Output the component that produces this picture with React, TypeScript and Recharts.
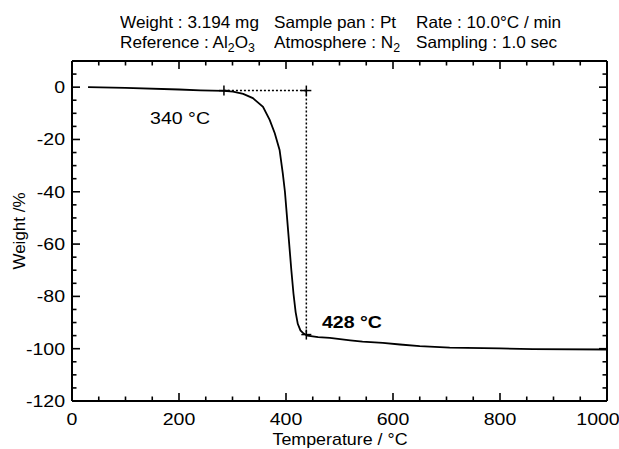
import React from 'react';
import { ComposedChart, Line, XAxis, YAxis, ReferenceLine, Scatter } from 'recharts';

// Thermogravimetric curve: temperature (°C) and weight change (%)
const temperature = [30, 100, 200, 240, 284, 301, 320, 338, 357, 369.5, 379, 388, 394, 398, 402, 406, 410, 414, 418, 422, 427, 433, 440, 460, 482, 520, 543, 581, 613, 650, 706, 800, 861, 1000];
const weight = [0, -0.3, -0.9, -1.2, -1.4, -1.7, -2.6, -4.2, -7.5, -12.5, -17.6, -24, -33, -40, -50, -60, -70, -79, -86, -90.5, -93, -94.2, -95, -95.6, -95.9, -96.8, -97.3, -97.8, -98.4, -99, -99.6, -99.9, -100.2, -100.3];

// Onset construction points
const markerTemps = [284, 438, 438];
const markerWeights = [-1.3, -1.3, -94.6];

const xTicks = [0, 50, 100, 150, 200, 250, 300, 350, 400, 450, 500, 550, 600, 650, 700, 750, 800, 850, 900, 950, 1000];
const xLabelTicks = [0, 200, 400, 600, 800, 1000];
const yTicks = [-120, -115, -110, -105, -100, -95, -90, -85, -80, -75, -70, -65, -60, -55, -50, -45, -40, -35, -30, -25, -20, -15, -10, -5, 0, 5, 10];
const yLabelTicks = [-120, -100, -80, -60, -40, -20, 0];

const headerRow1 = ['Weight : 3.194 mg', 'Sample pan : Pt', 'Rate : 10.0°C / min'];

const curveData = temperature.map((t, i) => ({ t, w: weight[i] }));
const markerData = markerTemps.map((t, i) => ({ t, w: markerWeights[i] }));

const FONT = '"Liberation Sans", Arial, Helvetica, sans-serif';
const STRETCH = 1.15;

const SText = ({ x, y, anchor = 'start', size = 17, bold = false, stretch = STRETCH, children }: any) => (
  <text
    transform={`translate(${x},${y}) scale(${stretch},1)`}
    x={0}
    y={0}
    textAnchor={anchor}
    fontSize={size}
    fontWeight={bold ? 'bold' : 'normal'}
    fontFamily={FONT}
    fill="#000"
  >
    {children}
  </text>
);

const BottomTick = (props: any) => {
  const { x, y, payload } = props;
  const v = payload.value;
  const major = xLabelTicks.includes(v);
  const len = major ? 8 : 4.5;
  return (
    <g>
      <line x1={x} y1={y} x2={x} y2={y - len} stroke="#000" strokeWidth={1.6} />
      {major && (
        <SText x={x + (v === 1000 ? -9 : 0)} y={y + 24} anchor="middle">
          {v}
        </SText>
      )}
    </g>
  );
};

const TopTick = (props: any) => {
  const { x, y, payload } = props;
  const major = xLabelTicks.includes(payload.value);
  const len = major ? 8 : 4.5;
  return <line x1={x} y1={y} x2={x} y2={y + len} stroke="#000" strokeWidth={1.6} />;
};

const LeftTick = (props: any) => {
  const { x, y, payload } = props;
  const v = payload.value;
  const major = yLabelTicks.includes(v);
  const len = major ? 8 : 4.5;
  return (
    <g>
      <line x1={x} y1={y} x2={x + len} y2={y} stroke="#000" strokeWidth={1.6} />
      {major && (
        <SText x={x - 7} y={y + 6} anchor="end">
          {v}
        </SText>
      )}
    </g>
  );
};

const RightTick = (props: any) => {
  const { x, y, payload } = props;
  const major = yLabelTicks.includes(payload.value);
  const len = major ? 8 : 4.5;
  return <line x1={x} y1={y} x2={x - len} y2={y} stroke="#000" strokeWidth={1.6} />;
};

const PlusShape = (props: any) => {
  const { cx, cy } = props;
  if (cx == null || cy == null) return null;
  return (
    <g>
      <line x1={cx - 5} y1={cy} x2={cx + 5} y2={cy} stroke="#000" strokeWidth={1.5} />
      <line x1={cx} y1={cy - 5} x2={cx} y2={cy + 5} stroke="#000" strokeWidth={1.5} />
    </g>
  );
};

const sub: React.CSSProperties = { fontSize: '0.72em', verticalAlign: '-0.3em', lineHeight: 0 };

export default function App() {
  const textStyle: React.CSSProperties = {
    position: 'absolute',
    fontFamily: FONT,
    fontSize: 16.5,
    lineHeight: '20px',
    color: '#000',
    whiteSpace: 'nowrap',
    transform: 'scaleX(1.04)',
    transformOrigin: 'left center',
  };
  return (
    <div style={{ position: 'absolute', left: 0, top: 0, width: 619, height: 449, background: '#fff', overflow: 'hidden' }}>
      <ComposedChart width={619} height={449} margin={{ top: 60, left: 71, right: 11, bottom: 47 }} data={curveData}>
        <XAxis
          xAxisId="b"
          dataKey="t"
          type="number"
          domain={[0, 1000]}
          ticks={xTicks}
          interval={0}
          allowDataOverflow
          height={1}
          tickSize={0}
          tickMargin={0}
          tickLine={false}
          axisLine={{ stroke: '#000', strokeWidth: 2 }}
          tick={<BottomTick />}
        />
        <XAxis
          xAxisId="t"
          orientation="top"
          dataKey="t"
          type="number"
          domain={[0, 1000]}
          ticks={xTicks}
          interval={0}
          allowDataOverflow
          height={1}
          tickSize={0}
          tickMargin={0}
          tickLine={false}
          axisLine={{ stroke: '#000', strokeWidth: 2 }}
          tick={<TopTick />}
        />
        <YAxis
          yAxisId="l"
          type="number"
          domain={[-120, 10]}
          ticks={yTicks}
          interval={0}
          allowDataOverflow
          width={1}
          tickSize={0}
          tickMargin={0}
          tickLine={false}
          axisLine={{ stroke: '#000', strokeWidth: 2 }}
          tick={<LeftTick />}
        />
        <YAxis
          yAxisId="r"
          orientation="right"
          type="number"
          domain={[-120, 10]}
          ticks={yTicks}
          interval={0}
          allowDataOverflow
          width={1}
          tickSize={0}
          tickMargin={0}
          tickLine={false}
          axisLine={{ stroke: '#000', strokeWidth: 2 }}
          tick={<RightTick />}
        />
        <ReferenceLine
          xAxisId="b"
          yAxisId="l"
          segment={[{ x: markerTemps[0], y: markerWeights[0] }, { x: markerTemps[1], y: markerWeights[1] }]}
          stroke="#000"
          strokeWidth={1.5}
          strokeDasharray="2 2"
        />
        <ReferenceLine
          xAxisId="b"
          yAxisId="l"
          segment={[{ x: markerTemps[1], y: markerWeights[1] }, { x: markerTemps[2], y: markerWeights[2] }]}
          stroke="#000"
          strokeWidth={1.5}
          strokeDasharray="2 2"
        />
        <Line
          xAxisId="b"
          yAxisId="l"
          dataKey="w"
          type="linear"
          stroke="#000"
          strokeWidth={1.8}
          dot={false}
          activeDot={false}
          isAnimationActive={false}
        />
        <Scatter
          xAxisId="b"
          yAxisId="l"
          data={markerData}
          dataKey="w"
          shape={<PlusShape />}
          isAnimationActive={false}
        />
      </ComposedChart>

      <div style={{ ...textStyle, left: 120, top: 12 }}>{headerRow1[0]}</div>
      <div style={{ ...textStyle, left: 274, top: 12 }}>{headerRow1[1]}</div>
      <div style={{ ...textStyle, left: 416, top: 12 }}>{headerRow1[2]}</div>
      <div style={{ ...textStyle, left: 120, top: 32 }}>
        Reference : Al<span style={sub}>2</span>O<span style={sub}>3</span>
      </div>
      <div style={{ ...textStyle, left: 274, top: 32 }}>
        Atmosphere : N<span style={sub}>2</span>
      </div>
      <div style={{ ...textStyle, left: 416, top: 32 }}>Sampling : 1.0 sec</div>

      <svg width={619} height={449} style={{ position: 'absolute', left: 0, top: 0, pointerEvents: 'none' }}>
        <SText x={210} y={124} anchor="end">340 °C</SText>
        <SText x={322} y={328} bold>428 °C</SText>
        <SText x={340} y={445} anchor="middle" stretch={1.05}>Temperature / °C</SText>
        <text x={25} y={231} transform="rotate(-90, 25, 231)" textAnchor="middle" fontSize={17} fontFamily={FONT} fill="#000">Weight /%</text>
      </svg>
    </div>
  );
}
